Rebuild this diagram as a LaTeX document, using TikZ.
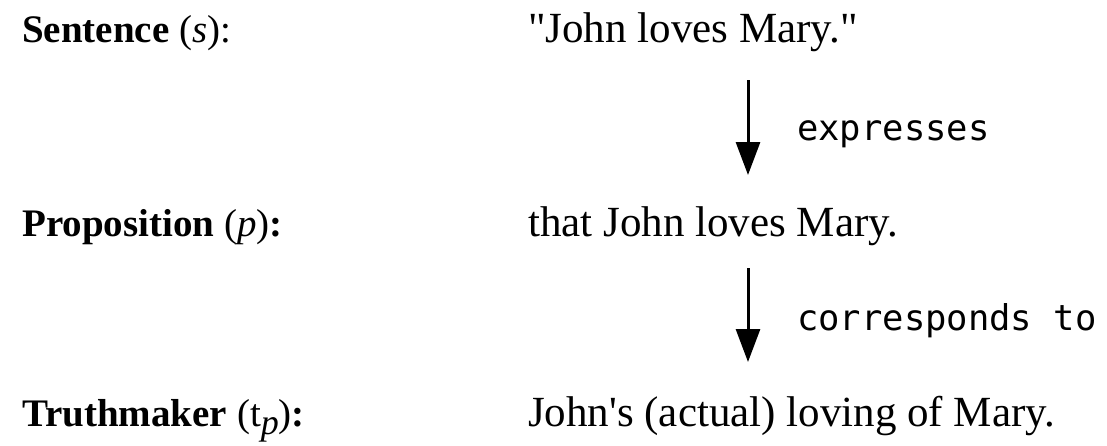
\documentclass[tikz,border=0pt]{standalone}
\usepackage{fontspec}
\setmainfont{Liberation Serif}[Ligatures=TeXOff]
\newfontfamily\relfont{DejaVu Sans Mono}
\usetikzlibrary{arrows.meta}
\newcommand{\subp}{\raisebox{-8pt}{\fontsize{36}{36}\selectfont\itshape p}}
\begin{document}
\begin{tikzpicture}[x=1pt,y=-1pt,
  lbl/.style={anchor=base west, inner sep=0pt, font=\fontsize{39}{44}\selectfont},
  txt/.style={anchor=base west, inner sep=0pt, font=\fontsize{43}{48}\selectfont},
  rel/.style={anchor=base west, inner sep=0pt, font=\relfont\fontsize{35.5}{40}\selectfont},
  arr/.style={line width=3pt, -{Triangle[width=24pt,length=33pt]}}]
\useasboundingbox (0,0) rectangle (1107,445);
\node[lbl] (ls) at (22,42) {\textbf{Sentence} (\textit{s}):};
\node[lbl] (lp) at (22,236) {\textbf{Proposition} (\textit{p})\textbf{:}};
\node[lbl] (lt) at (22,426) {\textbf{Truthmaker} (t\subp)\textbf{:}};
\node[txt] (s) at (528,42) {"John loves Mary."};
\node[txt] (p) at (528,236) {that John loves Mary.};
\node[txt] (t) at (528,426) {John's (actual) loving of Mary.};
\coordinate (a1) at (748,80);
\coordinate (b1) at (748,175);
\coordinate (a2) at (748,268);
\coordinate (b2) at (748,362);
\draw[arr] (a1) -- (b1);
\draw[arr] (a2) -- (b2);
\node[rel] (e1) at (797,140) {expresses};
\node[rel] (e2) at (797,330) {corresponds to};
\end{tikzpicture}
\end{document}
